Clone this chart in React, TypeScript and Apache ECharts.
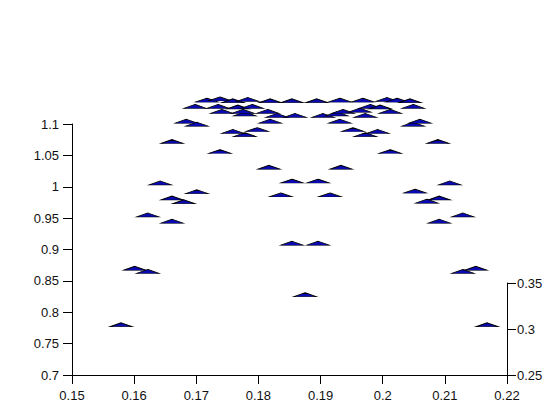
import React, { useEffect, useRef } from "react";
import * as echarts from "echarts";

const xTicks = [0.15, 0.16, 0.17, 0.18, 0.19, 0.2, 0.21, 0.22];
const leftYRange = [0.7, 1.1];
const rightYRange = [0.25, 0.35];

const xValues = [
  0.1579, 0.2168, 0.1875,
  0.1601, 0.1622, 0.2129, 0.2150,
  0.1854, 0.1896,
  0.1622, 0.1661, 0.2091, 0.2129,
  0.1642, 0.1701, 0.1661, 0.1680,
  0.2108, 0.2052, 0.2091, 0.2071,
  0.1817, 0.1933, 0.1854, 0.1896, 0.1836, 0.1915,
  0.1661, 0.2089, 0.1738, 0.2012,
  0.1759, 0.1778, 0.1798, 0.1952, 0.1972, 0.1992,
  0.1684, 0.1701, 0.1819, 0.1931, 0.2049, 0.2060,
  0.1830, 0.1859, 0.1904, 0.1926, 0.1972, 0.1778,
  0.1741, 0.1775, 0.1815, 0.1936, 0.1963, 0.2012,
  0.1698, 0.1735, 0.1767, 0.1790, 0.1980, 0.1996, 0.2049,
  0.1717, 0.1738, 0.1759, 0.1783, 0.1819, 0.1854, 0.1894, 0.1931, 0.1968, 0.2007, 0.2023, 0.2044,
];

const yValues = [
  0.780, 0.780, 0.828,
  0.870, 0.865, 0.865, 0.870,
  0.910, 0.910,
  0.955, 0.945, 0.945, 0.955,
  1.006, 0.992, 0.982, 0.976,
  1.006, 0.993, 0.982, 0.977,
  1.031, 1.031, 1.009, 1.009, 0.987, 0.987,
  1.072, 1.072, 1.056, 1.056,
  1.088, 1.083, 1.091, 1.091, 1.083, 1.088,
  1.1044, 1.0996, 1.1044, 1.1044, 1.0996, 1.1044,
  1.1135, 1.1135, 1.1135, 1.116, 1.1135, 1.116,
  1.120, 1.120, 1.120, 1.120, 1.122, 1.120,
  1.128, 1.128, 1.127, 1.128, 1.128, 1.127, 1.128,
  1.138, 1.140, 1.137, 1.139, 1.137, 1.137, 1.137, 1.138, 1.138, 1.139, 1.138, 1.137,
];

export default function App() {
  const ref = useRef<HTMLDivElement>(null);
  useEffect(() => {
    if (!ref.current) return;
    const chart = echarts.init(ref.current, null, { renderer: "svg" });
    const points = xValues.map((x, i) => [x, yValues[i]]);
    const labelStyle = {
      color: "#111",
      fontSize: 13,
      fontFamily: "Liberation Sans, Arial, sans-serif",
    };
    const fmt = (v: number) => String(+v.toFixed(4));
    const makeLine = () => ({ show: true, lineStyle: { color: "#000", width: 1 } });
    const makeTick = () => ({ show: true, inside: false, length: 9, lineStyle: { color: "#000", width: 1 } });
    chart.setOption({
      animation: false,
      backgroundColor: "#fff",
      grid: [
        { left: 72, right: 53, top: 124, bottom: 45, containLabel: false },
        { left: 72, right: 53, top: 283, bottom: 45, containLabel: false },
      ],
      xAxis: [
        {
          type: "value",
          gridIndex: 0,
          min: xTicks[0],
          max: xTicks[xTicks.length - 1],
          interval: 0.01,
          axisLine: makeLine(),
          axisTick: makeTick(),
          splitLine: { show: false },
          axisLabel: { ...labelStyle, margin: 14, formatter: fmt },
        },
        {
          type: "value",
          gridIndex: 1,
          min: xTicks[0],
          max: xTicks[xTicks.length - 1],
          show: false,
        },
      ],
      yAxis: [
        {
          type: "value",
          gridIndex: 0,
          min: leftYRange[0],
          max: leftYRange[1],
          interval: 0.05,
          axisLine: makeLine(),
          axisTick: makeTick(),
          splitLine: { show: false },
          axisLabel: { ...labelStyle, margin: 13, formatter: fmt },
        },
        {
          type: "value",
          gridIndex: 1,
          position: "right",
          min: rightYRange[0],
          max: rightYRange[1],
          interval: 0.05,
          axisLine: makeLine(),
          axisTick: makeTick(),
          splitLine: { show: false },
          axisLabel: { ...labelStyle, margin: 10, formatter: fmt },
        },
      ],
      series: [
        {
          type: "scatter",
          xAxisIndex: 0,
          yAxisIndex: 0,
          data: points,
          clip: false,
          symbol: "triangle",
          symbolSize: [23, 4],
          itemStyle: { color: "#0a0ab4", borderColor: "#000", borderWidth: 1, opacity: 1 },
        },
      ],
    });
    return () => chart.dispose();
  }, []);
  return (
    <div
      ref={ref}
      style={{ position: "fixed", left: 0, top: 0, width: 560, height: 420, background: "#fff" }}
    />
  );
}
